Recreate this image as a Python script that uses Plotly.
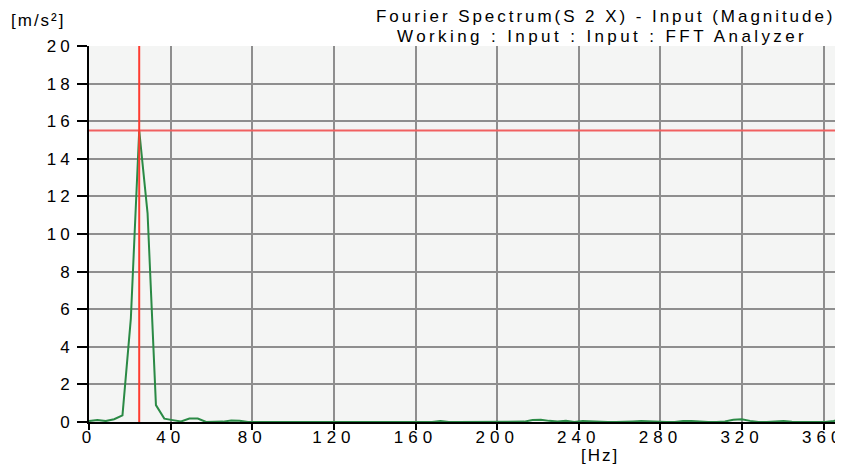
import plotly.graph_objects as go

# Frequency bins (Hz) and magnitude values (m/s²)
bin_step_hz = 4.1
magnitude = [
    0.05, 0.10, 0.05, 0.15, 0.35, 5.5, 15.5, 11.1, 0.9, 0.18,
    0.10, 0.03, 0.18, 0.18, 0.00, 0.00, 0.02, 0.08, 0.06, 0.00,
    0.00, 0.00, 0.00, 0.00, 0.00, 0.00, 0.00, 0.00, 0.00, 0.00,
    0.00, 0.00, 0.00, 0.00, 0.00, 0.00, 0.00, 0.00, 0.00, 0.00,
    0.00, 0.00, 0.05, 0.00, 0.00, 0.00, 0.00, 0.00, 0.00, 0.00,
    0.00, 0.00, 0.02, 0.10, 0.12, 0.06, 0.03, 0.06, 0.00, 0.05,
    0.02, 0.00, 0.00, 0.00, 0.00, 0.03, 0.05, 0.02, 0.00, 0.00,
    0.00, 0.05, 0.05, 0.01, 0.00, 0.00, 0.03, 0.12, 0.15, 0.06,
    0.00, 0.00, 0.02, 0.05, 0.01, 0.00, 0.00, 0.00, 0.00, 0.05,
    0.20,
]
freq = [round(i * bin_step_hz, 2) for i in range(len(magnitude))]

x_ticks = [0, 40, 80, 120, 160, 200, 240, 280, 320, 360]
y_ticks = [0, 2, 4, 6, 8, 10, 12, 14, 16, 18, 20]

title_line1 = "Fourier Spectrum(S 2 X) - Input (Magnitude)"
title_line2 = "Working : Input : Input : FFT Analyzer"
y_unit = "[m/s²]"
x_unit = "[Hz]"

peak_i = max(range(len(magnitude)), key=lambda i: magnitude[i])
peak_f = freq[peak_i]
peak_v = magnitude[peak_i]

def spaced(t, ls):
    return f'<span style="letter-spacing:{ls}px">{t}</span>'

FONT = "Liberation Sans, Arial, sans-serif"

fig = go.Figure()
fig.add_trace(go.Scatter(
    x=freq, y=magnitude, mode="lines",
    line=dict(color="#2a8a45", width=2),
    hoverinfo="x+y", showlegend=False,
))

# cursor lines
fig.add_shape(type="line", xref="paper", yref="y", x0=0, x1=1, y0=peak_v, y1=peak_v,
              line=dict(color="#f06060", width=2), layer="above")
fig.add_shape(type="line", xref="x", yref="paper", x0=peak_f, x1=peak_f, y0=0, y1=1,
              line=dict(color="#ff3c30", width=2), layer="above")

fig.update_layout(
    width=835, height=458,
    margin=dict(l=81, r=5, t=38, b=44),
    paper_bgcolor="white",
    plot_bgcolor="#f4f5f4",
    font=dict(family=FONT, size=17, color="black"),
    xaxis=dict(
        range=[0, 367], tickmode="array", tickvals=x_ticks,
        ticktext=[spaced(str(t), 5) for t in x_ticks],
        tickfont=dict(size=17), automargin=False, ticklabeloverflow="allow",
        showgrid=True, gridcolor="#8e8e8e", gridwidth=2,
        showline=True, linecolor="black", linewidth=2,
        ticks="outside", ticklen=6, tickwidth=2, tickcolor="black",
        zeroline=False, fixedrange=True, ticklabelstandoff=-7,
    ),
    yaxis=dict(
        range=[0, 20], tickmode="array", tickvals=y_ticks,
        ticktext=[spaced(str(t), 4) for t in y_ticks],
        tickfont=dict(size=17), automargin=False, ticklabeloverflow="allow",
        showgrid=True, gridcolor="#8e8e8e", gridwidth=2,
        showline=True, linecolor="black", linewidth=2,
        ticks="outside", ticklen=10, tickwidth=2, tickcolor="black",
        zeroline=False, fixedrange=True, ticklabelstandoff=0,
    ),
    annotations=[
        dict(text=spaced(title_line1, 2.95), xref="paper", yref="paper",
             x=0.998, y=1, yshift=30, xanchor="right", yanchor="middle",
             showarrow=False, font=dict(size=17)),
        dict(text=spaced(title_line2, 3.4), xref="paper", yref="paper",
             x=0.9617, y=1, yshift=10, xanchor="right", yanchor="middle",
             showarrow=False, font=dict(size=17)),
        dict(text=spaced(y_unit, 2), xref="paper", yref="paper",
             x=0, xshift=-51, y=1, yshift=26, xanchor="center", yanchor="middle",
             showarrow=False, font=dict(size=17)),
        dict(text=spaced(x_unit, 2), xref="paper", yref="paper",
             x=0.682, y=0, yshift=-33, xanchor="center", yanchor="middle",
             showarrow=False, font=dict(size=17)),
    ],
)

fig.write_html("out.html")
